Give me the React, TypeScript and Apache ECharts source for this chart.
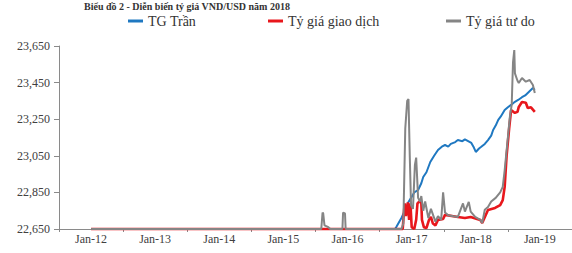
import React, { useEffect, useRef } from "react";
import * as echarts from "echarts";

// Time is given as decimal years (e.g. 2016.90 ≈ late Nov 2016)
const xTickLabels = ["Jan-12", "Jan-13", "Jan-14", "Jan-15", "Jan-16", "Jan-17", "Jan-18", "Jan-19"];
const yTicks = [22650, 22850, 23050, 23250, 23450, 23650];

const seriesNames = ["TG Trần", "Tỷ giá giao dịch", "Tỷ giá tư do"];

// TG Trần (ceiling rate)
const ceilingYears = [
  2012.0, 2016.74, 2016.76, 2016.84, 2016.9, 2016.95, 2016.99, 2017.04, 2017.1, 2017.15, 2017.18,
  2017.23, 2017.29, 2017.35, 2017.41, 2017.47, 2017.52, 2017.57, 2017.61, 2017.68, 2017.72, 2017.79,
  2017.83, 2017.88, 2017.93, 2017.97, 2018.0, 2018.05, 2018.08, 2018.14, 2018.19, 2018.24, 2018.27,
  2018.31, 2018.35, 2018.39, 2018.45, 2018.5, 2018.55, 2018.61, 2018.66, 2018.72, 2018.77, 2018.83,
  2018.89, 2018.92,
];
const ceilingValues = [
  22650, 22650, 22661, 22710, 22754, 22798, 22820, 22850, 22863, 22900, 22934,
  22960, 23016, 23050, 23082, 23100, 23109, 23100, 23115, 23125, 23136, 23130,
  23140, 23130, 23120, 23095, 23071, 23090, 23098, 23115, 23136, 23160, 23191,
  23215, 23246, 23265, 23300, 23315, 23328, 23345, 23355, 23370, 23380, 23400,
  23420, 23410,
];

// Tỷ giá giao dịch (interbank rate)
const tradeYears = [
  2012.0, 2016.86, 2016.87, 2016.89, 2016.91, 2016.94, 2016.96, 2016.98, 2017.0, 2017.04, 2017.07,
  2017.09, 2017.12, 2017.15, 2017.16, 2017.19, 2017.23, 2017.27, 2017.3, 2017.33, 2017.37, 2017.41,
  2017.49, 2017.52, 2017.65, 2017.72, 2017.83, 2017.92, 2018.07, 2018.1, 2018.19, 2018.3, 2018.38,
  2018.42, 2018.45, 2018.48, 2018.52, 2018.55, 2018.59, 2018.61, 2018.65, 2018.67, 2018.72, 2018.78,
  2018.81, 2018.86, 2018.92,
];
const tradeValues = [
  22650, 22650, 22700, 22790, 22720, 22795, 22700, 22790, 22660, 22650, 22700,
  22790, 22800, 22795, 22700, 22660, 22655, 22700, 22716, 22680, 22670, 22700,
  22705, 22727, 22720, 22716, 22710, 22716, 22699, 22683, 22754, 22765, 22781,
  22808, 22880, 23050, 23200, 23300, 23289, 23285, 23290, 23317, 23344, 23340,
  23311, 23315, 23290,
];

// Tỷ giá tư do (free-market rate)
const freeYears = [
  2012.0, 2015.59, 2015.61, 2015.62, 2015.64, 2015.7, 2015.73, 2015.92, 2015.93, 2015.96, 2015.97,
  2016.84, 2016.87, 2016.9, 2016.93, 2016.95, 2016.97, 2016.99, 2017.02, 2017.05, 2017.07, 2017.1,
  2017.13, 2017.15, 2017.18, 2017.21, 2017.26, 2017.3, 2017.37, 2017.41, 2017.46, 2017.49, 2017.52,
  2017.57, 2017.65, 2017.72, 2017.8, 2017.83, 2017.89, 2017.92, 2017.99, 2018.07, 2018.1, 2018.14,
  2018.19, 2018.24, 2018.31, 2018.38, 2018.42, 2018.45, 2018.5, 2018.53, 2018.56, 2018.58, 2018.6,
  2018.61, 2018.65, 2018.67, 2018.72, 2018.78, 2018.84, 2018.89, 2018.92,
];
const freeValues = [
  22650, 22650, 22740, 22735, 22670, 22660, 22650, 22650, 22740, 22735, 22650,
  22650, 22680, 23200, 23350, 23360, 23050, 22780, 22760, 23000, 23040, 22820,
  22800, 22830, 22750, 22800, 22710, 22760, 22690, 22720, 22700, 22850, 22740,
  22725, 22720, 22716, 22790, 22745, 22798, 22745, 22716, 22700, 22683, 22755,
  22770, 22800, 22820, 22850, 22880, 22970, 23150, 23260, 23330, 23560, 23628,
  23500, 23460, 23448, 23475, 23455, 23464, 23437, 23393,
];

const colors = ["#1f78c1", "#e8171c", "#858585"];
const FONT = "Times New Roman";

function pairs(xs: number[], ys: number[]) {
  return xs.map((x, i) => [x, ys[i]]);
}

export default function App() {
  const ref = useRef<HTMLDivElement>(null);
  useEffect(() => {
    if (!ref.current) return;
    const chart = echarts.init(ref.current, null, { renderer: "svg" });
    const legendBase = {
      top: 14,
      itemWidth: 15,
      itemHeight: 3,
      icon: "rect",
      padding: 0,
      textStyle: { fontFamily: FONT, fontSize: 14, color: "#333" },
    };
    chart.setOption({
      animation: false,
      title: {
        text: "Biểu đồ 2 - Diễn biến tỷ giá VND/USD năm 2018",
        left: 84,
        top: 1,
        padding: 0,
        textStyle: { fontFamily: FONT, fontSize: 10, fontWeight: "bold", color: "#333" },
      },
      legend: [
        { ...legendBase, left: 128, data: [seriesNames[0]] },
        { ...legendBase, left: 268, data: [seriesNames[1]] },
        { ...legendBase, left: 446, data: [seriesNames[2]] },
      ],
      grid: { left: 59, right: 0, top: 46, bottom: 24 },
      xAxis: {
        type: "value",
        min: 2011.5,
        max: 2019.5,
        interval: 1,
        splitLine: { show: false },
        axisLine: { lineStyle: { color: "#8a8a8a", width: 1 } },
        axisTick: { show: true, length: 3, lineStyle: { color: "#8a8a8a" } },
        axisLabel: {
          fontFamily: FONT,
          fontSize: 12,
          color: "#404040",
          margin: 4,
          padding: [0, 0, 0, 64],
          showMaxLabel: false,
          formatter: (v: number) => {
            const i = Math.round(v - 2011.5);
            return Math.abs(v - 2011.5 - i) < 1e-6 && i >= 0 && i < xTickLabels.length ? xTickLabels[i] : "";
          },
        },
      },
      yAxis: {
        type: "value",
        min: yTicks[0],
        max: yTicks[yTicks.length - 1],
        interval: 200,
        splitLine: { show: false },
        axisLine: { show: true, lineStyle: { color: "#8a8a8a", width: 1 } },
        axisTick: { show: true, length: 5, lineStyle: { color: "#8a8a8a" } },
        axisLabel: {
          fontFamily: FONT,
          fontSize: 12,
          color: "#404040",
          margin: 9,
          formatter: (v: number) => v.toLocaleString("en-US"),
        },
      },
      series: [
        {
          name: seriesNames[0],
          type: "line",
          data: pairs(ceilingYears, ceilingValues),
          showSymbol: false,
          clip: false,
          lineStyle: { color: colors[0], width: 2 },
          itemStyle: { color: colors[0] },
          z: 2,
        },
        {
          name: seriesNames[1],
          type: "line",
          data: pairs(tradeYears, tradeValues),
          showSymbol: false,
          clip: false,
          lineStyle: { color: colors[1], width: 2.6 },
          itemStyle: { color: colors[1] },
          z: 3,
        },
        {
          name: seriesNames[2],
          type: "line",
          data: pairs(freeYears, freeValues),
          showSymbol: false,
          clip: false,
          lineStyle: { color: colors[2], width: 2 },
          itemStyle: { color: colors[2] },
          z: 4,
        },
      ],
    });
    return () => chart.dispose();
  }, []);
  return (
    <div
      ref={ref}
      style={{ position: "absolute", left: 0, top: 0, width: 572, height: 253, background: "#fff" }}
    />
  );
}
